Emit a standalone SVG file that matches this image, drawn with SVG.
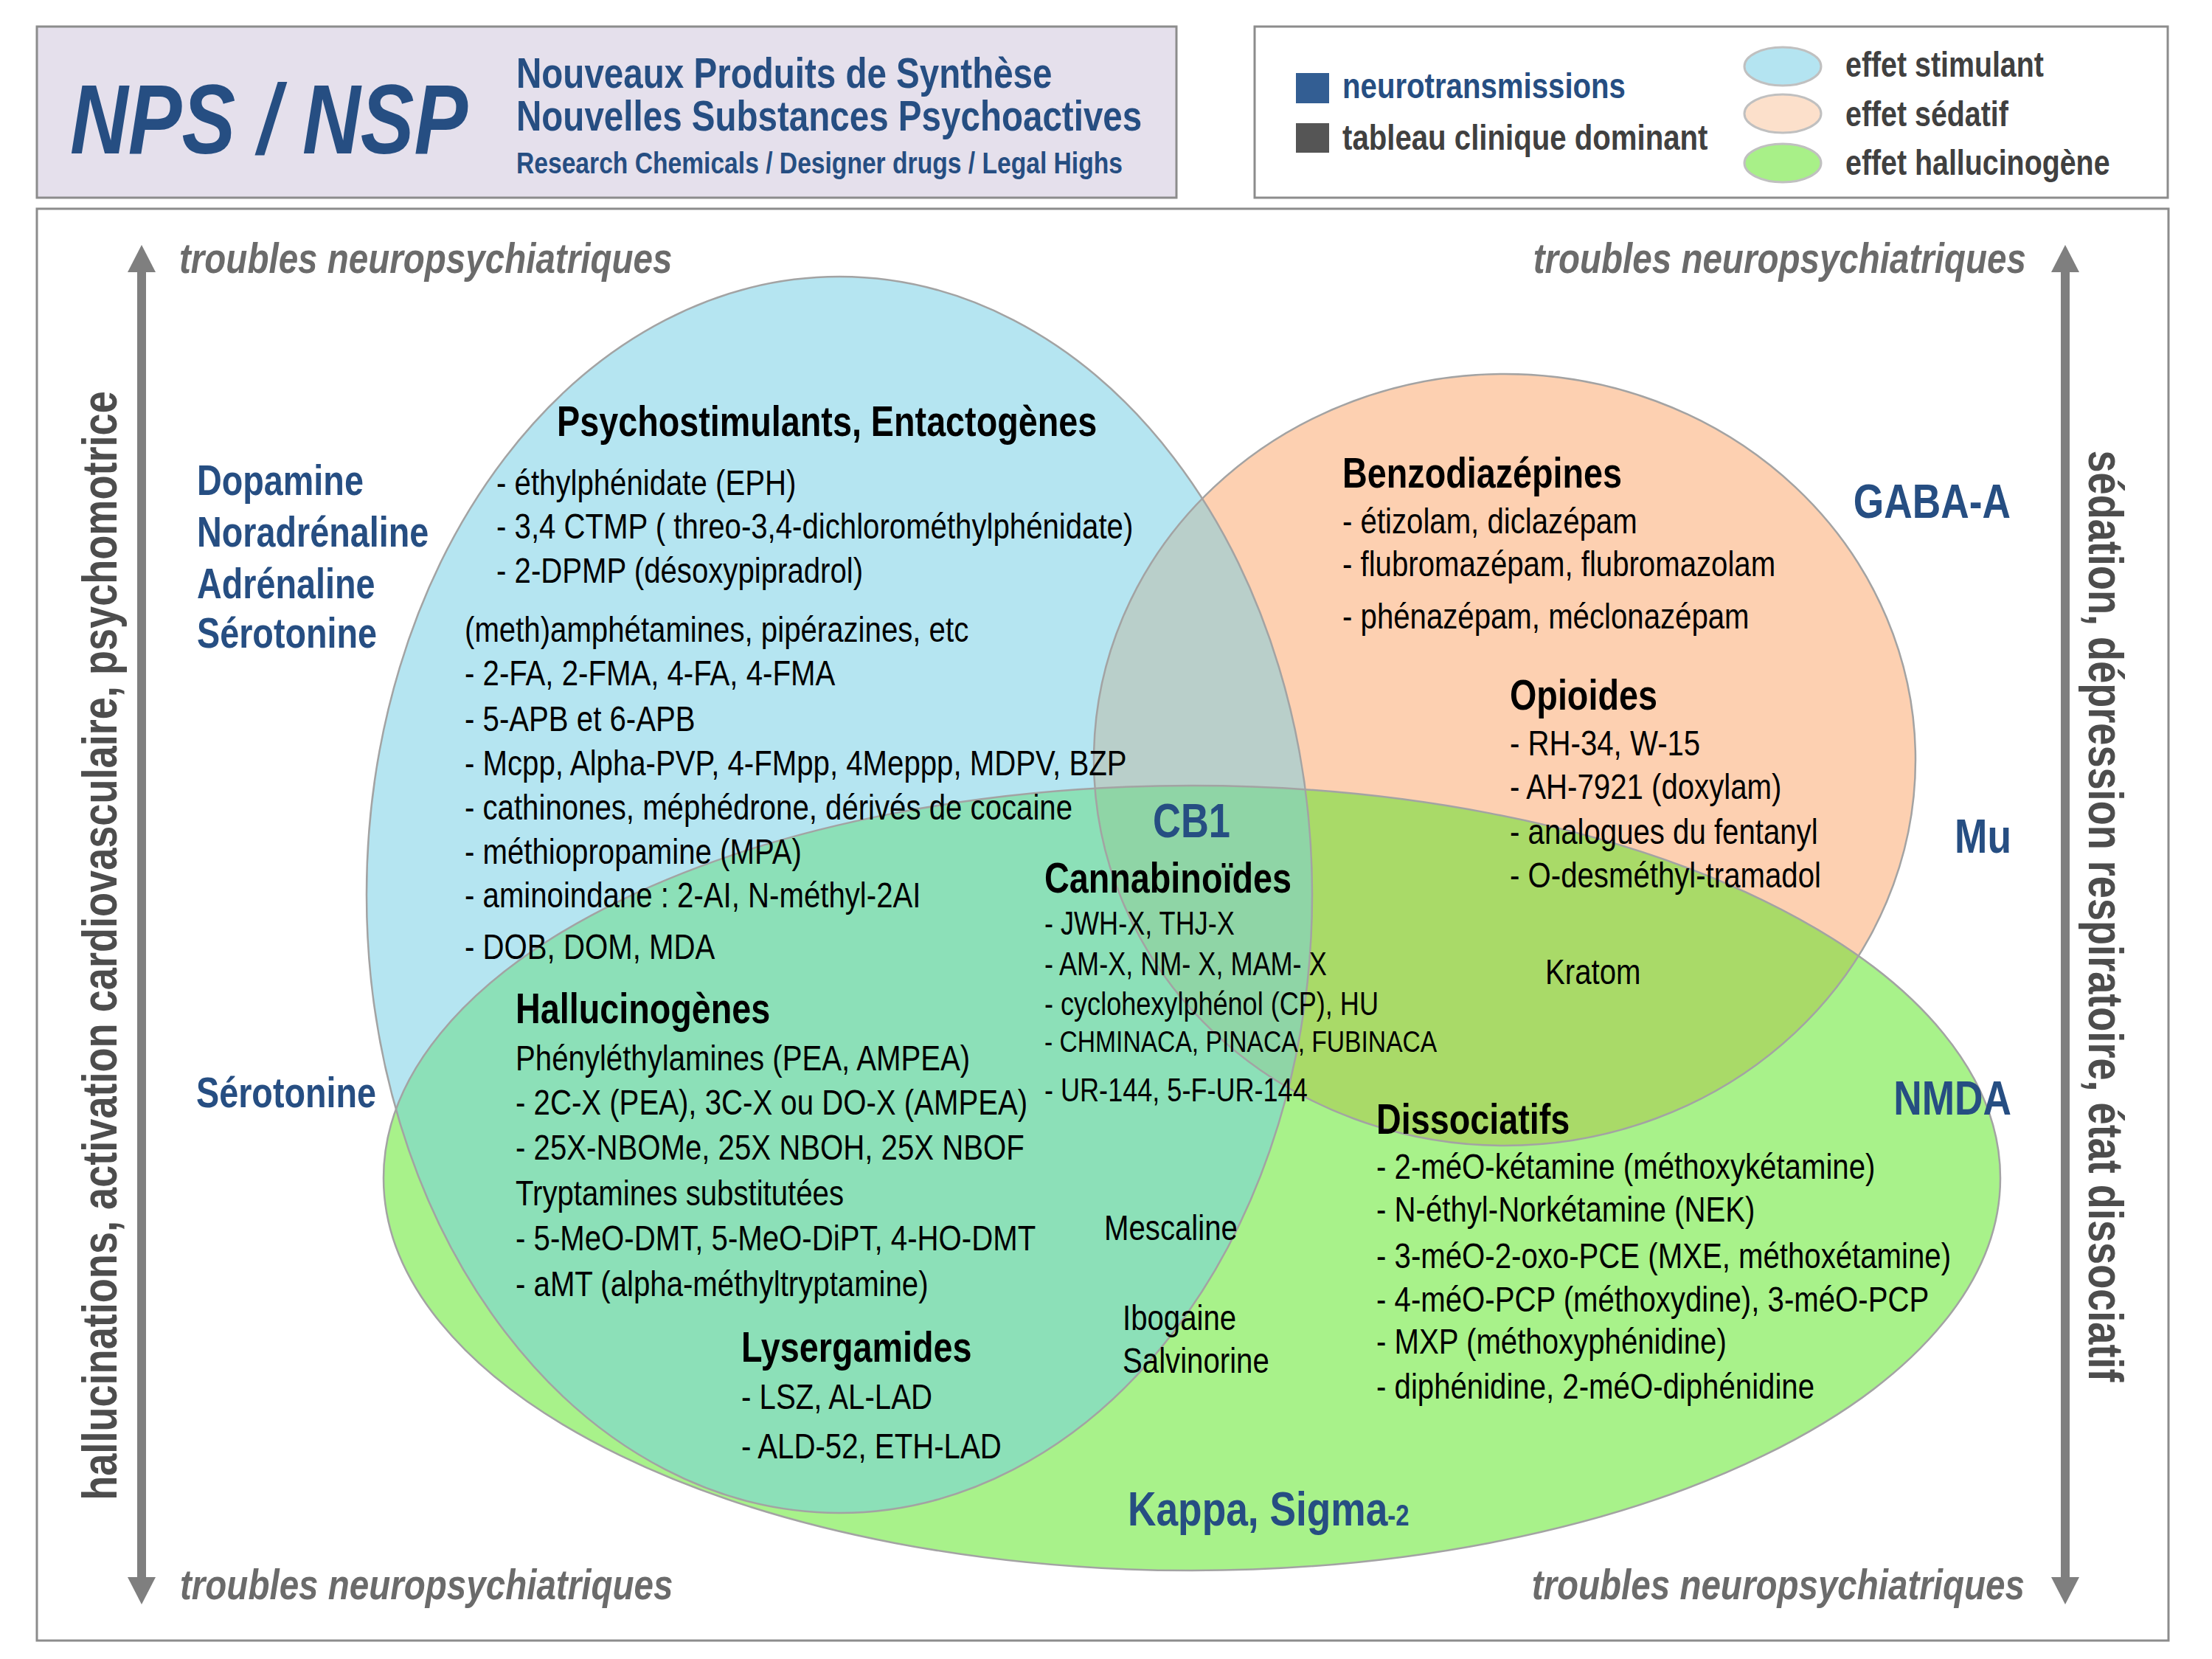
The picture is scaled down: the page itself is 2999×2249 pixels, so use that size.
<svg xmlns="http://www.w3.org/2000/svg" width="2999" height="2249" viewBox="0 0 2999 2249">
<defs>
<style>
text{font-family:"Liberation Sans",Arial,sans-serif;}
.b{font-weight:bold;}
.it{font-style:italic;}
.blue{fill:#264e82;font-weight:bold;}
.gray{fill:#404040;font-weight:bold;}
.body{font-size:49px;fill:#000;}
.head{font-size:57px;font-weight:bold;fill:#000;}
.lbl{font-size:57px;}
.big{font-size:65px;}
.trb{font-size:58px;font-weight:bold;font-style:italic;fill:#6b6b6b;}
.axis{font-size:66px;font-weight:bold;fill:#4d4d4d;}
.cann{font-size:44px;fill:#000;}
.outline{fill:none;stroke:#a3a3a3;stroke-width:2.5;}
</style>
<ellipse id="eB" cx="1138" cy="1213" rx="641" ry="838"/>
<ellipse id="eO" cx="2040" cy="1030" rx="557" ry="523"/>
<ellipse id="eG" cx="1616" cy="1597" rx="1096" ry="532"/>
<clipPath id="cB"><use href="#eB"/></clipPath>
<clipPath id="cO"><use href="#eO"/></clipPath>
</defs>
<rect width="2999" height="2249" fill="#fff"/>

<g id="header">
<rect x="50" y="36" width="1545" height="232" fill="#e5e0ec" stroke="#8c8c8c" stroke-width="3"/>
<text transform="translate(95,208) scale(.82,1)" class="blue it" style="font-size:133px">NPS / NSP</text>
<text transform="translate(700,119) scale(.82,1)" class="blue" style="font-size:58px">Nouveaux Produits de Synthèse</text>
<text transform="translate(700,177) scale(.82,1)" class="blue" style="font-size:58px">Nouvelles Substances Psychoactives</text>
<text transform="translate(700,235) scale(.82,1)" class="blue" style="font-size:41px">Research Chemicals / Designer drugs / Legal Highs</text>
</g>

<g id="legend">
<rect x="1701" y="36" width="1238" height="232" fill="#fff" stroke="#8c8c8c" stroke-width="3"/>
<rect x="1757" y="99" width="45" height="41" fill="#335e93"/>
<text transform="translate(1820,133) scale(.82,1)" class="blue" style="font-size:49px">neurotransmissions</text>
<rect x="1757" y="167" width="45" height="40" fill="#555"/>
<text transform="translate(1820,203) scale(.82,1)" class="gray" style="font-size:49px">tableau clinique dominant</text>
<ellipse cx="2417" cy="90" rx="52" ry="26" fill="#b4e4f1" stroke="#c0c0c0" stroke-width="3"/>
<ellipse cx="2417" cy="154" rx="52" ry="26" fill="#fce0cb" stroke="#c0c0c0" stroke-width="3"/>
<ellipse cx="2417" cy="221" rx="52" ry="26" fill="#a8f088" stroke="#c0c0c0" stroke-width="3"/>
<text transform="translate(2502,104) scale(.82,1)" class="gray" style="font-size:48px">effet stimulant</text>
<text transform="translate(2502,171) scale(.82,1)" class="gray" style="font-size:48px">effet sédatif</text>
<text transform="translate(2502,237) scale(.82,1)" class="gray" style="font-size:48px">effet hallucinogène</text>
</g>

<rect id="frame" x="50" y="283" width="2890" height="1941" fill="#fff" stroke="#8c8c8c" stroke-width="3"/>

<g id="sets">
<use href="#eB" fill="#b5e5f1"/>
<use href="#eO" fill="#fdd0b1"/>
<use href="#eG" fill="#a8f28a"/>
<g clip-path="url(#cB)"><use href="#eO" fill="#b9cfca"/><use href="#eG" fill="#8ce0b8"/></g>
<g clip-path="url(#cO)"><use href="#eG" fill="#a9da68"/></g>
<g clip-path="url(#cB)"><g clip-path="url(#cO)"><use href="#eG" fill="#8fd5a6"/></g></g>
<use href="#eB" class="outline"/>
<use href="#eO" class="outline"/>
<use href="#eG" class="outline"/>
</g>

<g id="axes" fill="#7f7f7f">
<rect x="186" y="366" width="12" height="1774"/>
<polygon points="192,332 173,369 211,369"/>
<polygon points="192,2175 173,2138 211,2138"/>
<rect x="2794" y="366" width="12" height="1774"/>
<polygon points="2800,332 2781,369 2819,369"/>
<polygon points="2800,2175 2781,2138 2819,2138"/>
</g>

<g id="axis-labels">
<text transform="translate(243,370) scale(.82,1)" class="trb">troubles neuropsychiatriques</text>
<text transform="translate(2747,370) scale(.82,1)" class="trb" text-anchor="end">troubles neuropsychiatriques</text>
<text transform="translate(244,2168) scale(.82,1)" class="trb">troubles neuropsychiatriques</text>
<text transform="translate(2745,2168) scale(.82,1)" class="trb" text-anchor="end">troubles neuropsychiatriques</text>
<text transform="translate(158,1282) rotate(-90) scale(.82,1)" class="axis" text-anchor="middle">hallucinations, activation cardiovasculaire, psychomotrice</text>
<text transform="translate(2832,1242) rotate(90) scale(.82,1)" class="axis" text-anchor="middle">sédation, dépression respiratoire, état dissociatif</text>
</g>

<g id="neurotransmitters">
<text transform="translate(267,671) scale(.82,1)" class="blue lbl">Dopamine</text>
<text transform="translate(267,741) scale(.82,1)" class="blue lbl">Noradrénaline</text>
<text transform="translate(267,811) scale(.82,1)" class="blue lbl">Adrénaline</text>
<text transform="translate(267,878) scale(.82,1)" class="blue lbl">Sérotonine</text>
<text transform="translate(266,1501) scale(.82,1)" class="blue lbl">Sérotonine</text>
<text transform="translate(2726,702) scale(.82,1)" class="blue big" text-anchor="end">GABA-A</text>
<text transform="translate(2727,1156) scale(.82,1)" class="blue big" text-anchor="end">Mu</text>
<text transform="translate(2727,1511) scale(.82,1)" class="blue big" text-anchor="end">NMDA</text>
<text transform="translate(1563,1135) scale(.82,1)" class="blue" style="font-size:64px">CB1</text>
<text transform="translate(1529,2068) scale(.82,1)" class="blue big">Kappa, Sigma<tspan style="font-size:40px">-2</tspan></text>
</g>

<g id="psychostimulants">
<text transform="translate(755,591) scale(.82,1)" class="head">Psychostimulants, Entactogènes</text>
<text transform="translate(673,671) scale(.82,1)" class="body">- éthylphénidate (EPH)</text>
<text transform="translate(673,730) scale(.82,1)" class="body">- 3,4 CTMP ( threo-3,4-dichlorométhylphénidate)</text>
<text transform="translate(673,790) scale(.82,1)" class="body">- 2-DPMP (désoxypipradrol)</text>
<text transform="translate(630,870) scale(.82,1)" class="body">(meth)amphétamines, pipérazines, etc</text>
<text transform="translate(630,929) scale(.82,1)" class="body">- 2-FA, 2-FMA, 4-FA, 4-FMA</text>
<text transform="translate(630,991) scale(.82,1)" class="body">- 5-APB et 6-APB</text>
<text transform="translate(630,1051) scale(.82,1)" class="body">- Mcpp, Alpha-PVP, 4-FMpp, 4Meppp, MDPV, BZP</text>
<text transform="translate(630,1111) scale(.82,1)" class="body">- cathinones, méphédrone, dérivés de cocaine</text>
<text transform="translate(630,1171) scale(.82,1)" class="body">- méthiopropamine (MPA)</text>
<text transform="translate(630,1230) scale(.82,1)" class="body">- aminoindane : 2-AI, N-méthyl-2AI</text>
<text transform="translate(630,1300) scale(.82,1)" class="body">- DOB, DOM, MDA</text>
</g>

<g id="benzodiazepines">
<text transform="translate(1820,661) scale(.82,1)" class="head">Benzodiazépines</text>
<text transform="translate(1820,723) scale(.82,1)" class="body">- étizolam, diclazépam</text>
<text transform="translate(1820,781) scale(.82,1)" class="body">- flubromazépam, flubromazolam</text>
<text transform="translate(1820,852) scale(.82,1)" class="body">- phénazépam, méclonazépam</text>
</g>

<g id="opioides">
<text transform="translate(2047,962) scale(.82,1)" class="head">Opioides</text>
<text transform="translate(2047,1024) scale(.82,1)" class="body">- RH-34, W-15</text>
<text transform="translate(2047,1083) scale(.82,1)" class="body">- AH-7921 (doxylam)</text>
<text transform="translate(2047,1144) scale(.82,1)" class="body">- analogues du fentanyl</text>
<text transform="translate(2047,1203) scale(.82,1)" class="body">- O-desméthyl-tramadol</text>
<text transform="translate(2095,1334) scale(.82,1)" class="body">Kratom</text>
</g>

<g id="cannabinoides">
<text transform="translate(1416,1210) scale(.82,1)" class="head">Cannabinoïdes</text>
<text transform="translate(1416,1267) scale(.82,1)" class="cann">- JWH-X, THJ-X</text>
<text transform="translate(1416,1322) scale(.82,1)" class="cann">- AM-X, NM- X, MAM- X</text>
<text transform="translate(1416,1376) scale(.82,1)" class="cann">- cyclohexylphénol (CP), HU</text>
<text transform="translate(1416,1426) scale(.82,1)" class="cann" style="font-size:41px">- CHMINACA, PINACA, FUBINACA</text>
<text transform="translate(1416,1493) scale(.82,1)" class="cann">- UR-144, 5-F-UR-144</text>
</g>

<g id="hallucinogenes">
<text transform="translate(699,1387) scale(.82,1)" class="head">Hallucinogènes</text>
<text transform="translate(699,1451) scale(.82,1)" class="body">Phényléthylamines (PEA, AMPEA)</text>
<text transform="translate(699,1511) scale(.82,1)" class="body">- 2C-X (PEA), 3C-X ou DO-X (AMPEA)</text>
<text transform="translate(699,1572) scale(.82,1)" class="body">- 25X-NBOMe, 25X NBOH, 25X NBOF</text>
<text transform="translate(699,1634) scale(.82,1)" class="body">Tryptamines substitutées</text>
<text transform="translate(699,1695) scale(.82,1)" class="body">- 5-MeO-DMT, 5-MeO-DiPT, 4-HO-DMT</text>
<text transform="translate(699,1757) scale(.82,1)" class="body">- aMT (alpha-méthyltryptamine)</text>
<text transform="translate(1497,1681) scale(.82,1)" class="body">Mescaline</text>
<text transform="translate(1522,1803) scale(.82,1)" class="body">Ibogaine</text>
<text transform="translate(1522,1861) scale(.82,1)" class="body">Salvinorine</text>
</g>

<g id="lysergamides">
<text transform="translate(1005,1846) scale(.82,1)" class="head">Lysergamides</text>
<text transform="translate(1005,1910) scale(.82,1)" class="body">- LSZ, AL-LAD</text>
<text transform="translate(1005,1977) scale(.82,1)" class="body">- ALD-52, ETH-LAD</text>
</g>

<g id="dissociatifs">
<text transform="translate(1866,1537) scale(.82,1)" class="head">Dissociatifs</text>
<text transform="translate(1866,1598) scale(.82,1)" class="body">- 2-méO-kétamine (méthoxykétamine)</text>
<text transform="translate(1866,1656) scale(.82,1)" class="body">- N-éthyl-Norkétamine (NEK)</text>
<text transform="translate(1866,1719) scale(.82,1)" class="body">- 3-méO-2-oxo-PCE (MXE, méthoxétamine)</text>
<text transform="translate(1866,1778) scale(.82,1)" class="body">- 4-méO-PCP (méthoxydine), 3-méO-PCP</text>
<text transform="translate(1866,1835) scale(.82,1)" class="body">- MXP (méthoxyphénidine)</text>
<text transform="translate(1866,1896) scale(.82,1)" class="body">- diphénidine, 2-méO-diphénidine</text>
</g>
</svg>
